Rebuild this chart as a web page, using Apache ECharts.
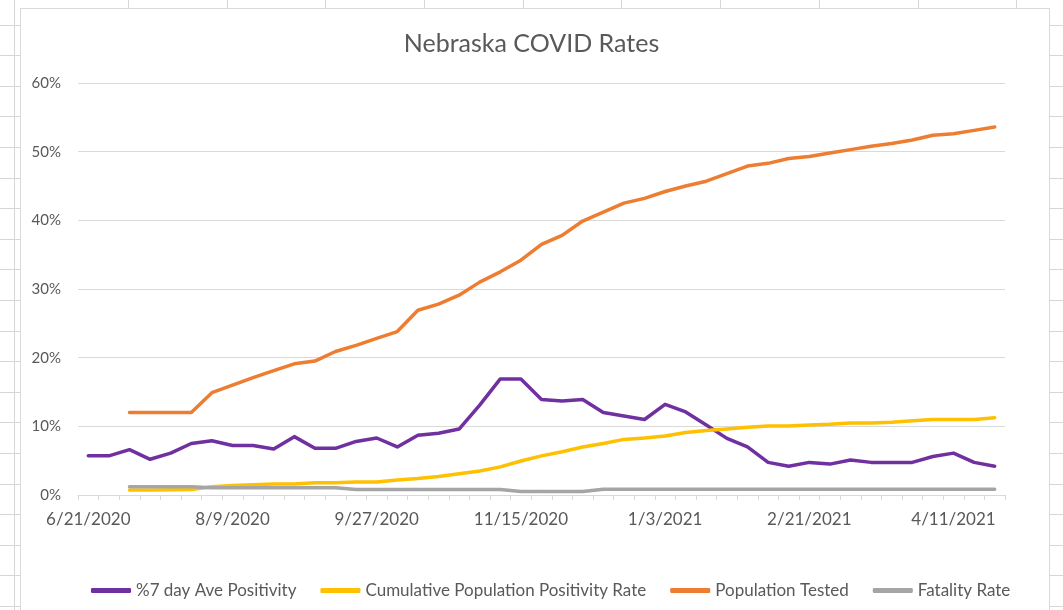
<!DOCTYPE html>
<html>
<head>
<meta charset="utf-8">
<script src="https://cdn.jsdelivr.net/npm/echarts@6/dist/echarts.min.js"></script>
<style>
  html, body { margin: 0; padding: 0; width: 1063px; height: 610px; overflow: hidden; background: #fff; }
  #rows { position: absolute; left: 0; top: -5.6px; width: 1063px; height: 640px;
    background-image: repeating-linear-gradient(to bottom, #d6d6d6 0px, #d6d6d6 1px, transparent 1px, transparent 30.6px); }
  #colL { position: absolute; left: 14px; top: 0; width: 1px; height: 610px; background: #d6d6d6; }
  #cols { position: absolute; left: 128px; top: 0; width: 990px; height: 8px;
    background-image: repeating-linear-gradient(to right, #d6d6d6 0px, #d6d6d6 1px, transparent 1px, transparent 98.7px); }
  #frame { position: absolute; left: 20px; top: 8px; width: 1028px; height: 620px; background: #fff; border: 1px solid #d9d9d9; }
  #chart { position: absolute; left: 0; top: 0; width: 1063px; height: 610px; }
</style>
</head>
<body>
<div id="rows"></div>
<div id="colL"></div>
<div id="cols"></div>
<div id="frame"></div>
<div id="chart"></div>
<script>
const categories = [
  '6/21/2020','6/28/2020','7/5/2020','7/12/2020','7/19/2020','7/26/2020','8/2/2020','8/9/2020',
  '8/16/2020','8/23/2020','8/30/2020','9/6/2020','9/13/2020','9/20/2020','9/27/2020','10/4/2020',
  '10/11/2020','10/18/2020','10/25/2020','11/1/2020','11/8/2020','11/15/2020','11/22/2020','11/29/2020',
  '12/6/2020','12/13/2020','12/20/2020','12/27/2020','1/3/2021','1/10/2021','1/17/2021','1/24/2021',
  '1/31/2021','2/7/2021','2/14/2021','2/21/2021','2/28/2021','3/7/2021','3/14/2021','3/21/2021',
  '3/28/2021','4/4/2021','4/11/2021','4/18/2021','4/25/2021'
];
const positivity7day = [5.7,5.7,6.6,5.2,6.1,7.5,7.9,7.2,7.2,6.7,8.5,6.8,6.8,7.8,8.3,7.0,8.7,9.0,9.6,13.1,
  16.9,16.9,13.9,13.7,13.9,12.0,11.5,11.0,13.2,12.1,10.2,8.25,7.0,4.75,4.2,4.75,4.5,5.1,4.75,4.75,
  4.75,5.6,6.1,4.75,4.2];
const cumulativePositivity = [null,null,0.73,0.73,0.75,0.8,1.2,1.4,1.5,1.6,1.6,1.8,1.8,1.9,1.9,2.2,
  2.4,2.7,3.1,3.5,4.1,4.95,5.7,6.3,7.0,7.5,8.1,8.3,8.6,9.1,9.4,9.6,9.85,10.05,10.05,10.2,
  10.3,10.5,10.5,10.6,10.8,11.0,11.0,11.0,11.25];
const populationTested = [null,null,12,12,12,12,14.9,16.0,17.1,18.1,19.1,19.5,20.9,21.8,22.8,23.8,
  26.9,27.8,29.1,31.0,32.5,34.2,36.5,37.8,39.9,41.2,42.5,43.2,44.2,45.0,45.7,46.8,47.9,48.3,49.0,
  49.3,49.8,50.3,50.8,51.2,51.7,52.4,52.6,53.1,53.6];
const fatalityRate = [null,null,1.2,1.2,1.2,1.2,1.05,1.05,1.05,1.05,1.05,1.05,1.05,0.8,0.8,0.8,0.8,
  0.8,0.8,0.8,0.8,0.5,0.5,0.5,0.5,0.85,0.85,0.85,0.85,0.85,0.85,0.85,0.85,0.85,0.85,0.85,0.85,
  0.85,0.85,0.85,0.85,0.85,0.85,0.85,0.85];
const seriesNames = ['%7 day Ave Positivity','Cumulative Population Positivity Rate','Population Tested','Fatality Rate'];
const seriesColors = ['#7030A0','#FFC000','#ED7D31','#A5A5A5'];
const yTicks = { min: 0, max: 60, interval: 10 };

const FONT = 'Lato';
const chart = echarts.init(document.getElementById('chart'), null, { renderer: 'canvas' });
const dataSets = [positivity7day, cumulativePositivity, populationTested, fatalityRate];
chart.setOption({
  animation: false,
  backgroundColor: 'transparent',
  textStyle: { fontFamily: FONT },
  title: {
    text: 'Nebraska COVID Rates', left: 'center', top: 26,
    textStyle: { color: '#595959', fontWeight: 'normal', fontSize: 25, fontFamily: FONT }
  },
  grid: { left: 78, right: 58, top: 83, bottom: 115 },
  legend: {
    left: 86, top: 577, itemWidth: 40, itemHeight: 5, itemGap: 24, icon: 'roundRect',
    textStyle: { color: '#595959', fontSize: 17, fontFamily: FONT },
    data: seriesNames
  },
  xAxis: {
    type: 'category', data: categories, boundaryGap: true,
    axisLine: { lineStyle: { color: '#d9d9d9', width: 1 } },
    axisTick: { show: true, interval: 0, length: 5, lineStyle: { color: '#d9d9d9' } },
    axisLabel: { interval: 6, color: '#595959', fontSize: 17, margin: 16, fontFamily: FONT },
    splitLine: { show: false }
  },
  yAxis: {
    type: 'value', min: yTicks.min, max: yTicks.max, interval: yTicks.interval,
    axisLine: { show: false }, axisTick: { show: false },
    axisLabel: { formatter: '{value}%', color: '#595959', fontSize: 15, margin: 17, fontFamily: FONT },
    splitLine: { lineStyle: { color: '#d9d9d9', width: 1 } }
  },
  series: seriesNames.map((name, k) => ({
    name, type: 'line', data: dataSets[k], showSymbol: false, symbol: 'none',
    color: seriesColors[k],
    lineStyle: { width: 3.5, color: seriesColors[k], cap: 'round', join: 'round' }
  }))
});
</script>
</body>
</html>
